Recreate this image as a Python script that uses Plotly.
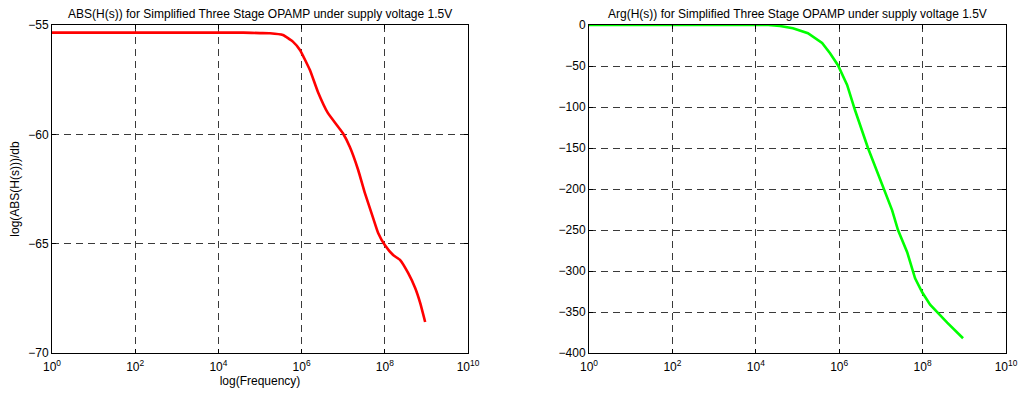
import plotly.graph_objects as go

# Magnitude response: log10(frequency) and gain in dB
mag_logf = [0.0, 1.0, 2.0, 3.0, 4.0, 4.6, 5.0, 5.24, 5.55, 5.79, 5.96, 6.20, 6.39, 6.63, 6.99,
            7.16, 7.36, 7.52, 7.72, 7.84, 8.00, 8.20, 8.37, 8.56, 8.73, 8.85, 8.97]
mag_db = [-55.35, -55.35, -55.35, -55.35, -55.35, -55.35, -55.37, -55.38, -55.46, -55.76, -56.14,
          -57.06, -58.05, -59.02, -59.94, -60.58, -61.63, -62.68, -63.83, -64.51, -65.06, -65.52,
          -65.75, -66.34, -67.03, -67.71, -68.58]

# Phase response: log10(frequency) and phase in degrees
ph_logf = [0.0, 1.0, 2.0, 3.0, 4.0, 4.3, 4.58, 4.89, 5.25, 5.59, 5.78, 5.97, 6.19, 6.38, 6.69,
           7.05, 7.27, 7.41, 7.63, 7.82, 7.99, 8.18, 8.59, 8.97]
ph_deg = [0.0, 0.0, 0.0, 0.0, 0.0, 0.0, -1.2, -4, -10, -22, -34.5, -49, -73, -104, -150,
          -198, -226, -250, -277, -309, -326, -341, -363, -382]

x_tickvals = [1, 1e2, 1e4, 1e6, 1e8, 1e10]
x_ticktext = ["10<sup>0</sup>", "10<sup>2</sup>", "10<sup>4</sup>", "10<sup>6</sup>",
              "10<sup>8</sup>", "10<sup>10</sup>"]
mag_ticks = [-55, -60, -65, -70]
ph_ticks = [0, -50, -100, -150, -200, -250, -300, -350, -400]

mag_title = "ABS(H(s)) for Simplified Three Stage OPAMP under supply voltage 1.5V"
ph_title = "Arg(H(s)) for Simplified Three Stage OPAMP under supply voltage 1.5V"

W, H = 1020, 397
FONT = "Liberation Sans, Arial, sans-serif"

fig = go.Figure()
fig.add_trace(go.Scatter(x=[10 ** v for v in mag_logf], y=mag_db, mode="lines",
                         line=dict(color="#ff0000", width=2.6, shape="spline", smoothing=0.4),
                         xaxis="x", yaxis="y", showlegend=False))
fig.add_trace(go.Scatter(x=[10 ** v for v in ph_logf], y=ph_deg, mode="lines",
                         line=dict(color="#00ff00", width=2.6),
                         xaxis="x2", yaxis="y2", showlegend=False))

top, bottom = 1 - 25 / H, 1 - 353 / H
dom1 = [52 / W, 468 / W]
dom2 = [589 / W, 1006 / W]

common = dict(showline=True, linecolor="black", linewidth=1, mirror="ticks",
              ticks="inside", ticklen=4, tickcolor="black", tickwidth=1,
              showgrid=True, gridcolor="#3a3a3a", gridwidth=1, griddash="7px,5px",
              zeroline=False, automargin=False,
              tickfont=dict(family=FONT, size=12, color="black"))

fig.update_layout(
    width=W, height=H, margin=dict(l=0, r=0, t=0, b=0),
    paper_bgcolor="white", plot_bgcolor="white",
    font=dict(family=FONT, size=11, color="black"),
    xaxis=dict(domain=dom1, type="log", range=[0, 10], tickvals=x_tickvals,
               ticktext=x_ticktext, anchor="y", ticklabelstandoff=3,
               title=dict(text="log(Frequency)", font=dict(size=12), standoff=2), **common),
    yaxis=dict(domain=[bottom, top], range=[-70, -55], tickvals=mag_ticks, anchor="x",
               title=dict(text="log(ABS(H(s)))/db", font=dict(size=12), standoff=6), **common),
    xaxis2=dict(domain=dom2, type="log", range=[0, 10], tickvals=x_tickvals,
                ticktext=x_ticktext, anchor="y2", ticklabelstandoff=3, **common),
    yaxis2=dict(domain=[bottom, top], range=[-400, 0], tickvals=ph_ticks, anchor="x2", **common),
    annotations=[
        dict(text=mag_title, x=(dom1[0] + dom1[1]) / 2, y=top, xref="paper", yref="paper",
             xanchor="center", yanchor="bottom", yshift=2, showarrow=False,
             font=dict(family=FONT, size=12, color="black")),
        dict(text=ph_title, x=(dom2[0] + dom2[1]) / 2, y=top, xref="paper", yref="paper",
             xanchor="center", yanchor="bottom", yshift=2, showarrow=False,
             font=dict(family=FONT, size=12, color="black")),
    ],
)

fig.write_html("out.html")
